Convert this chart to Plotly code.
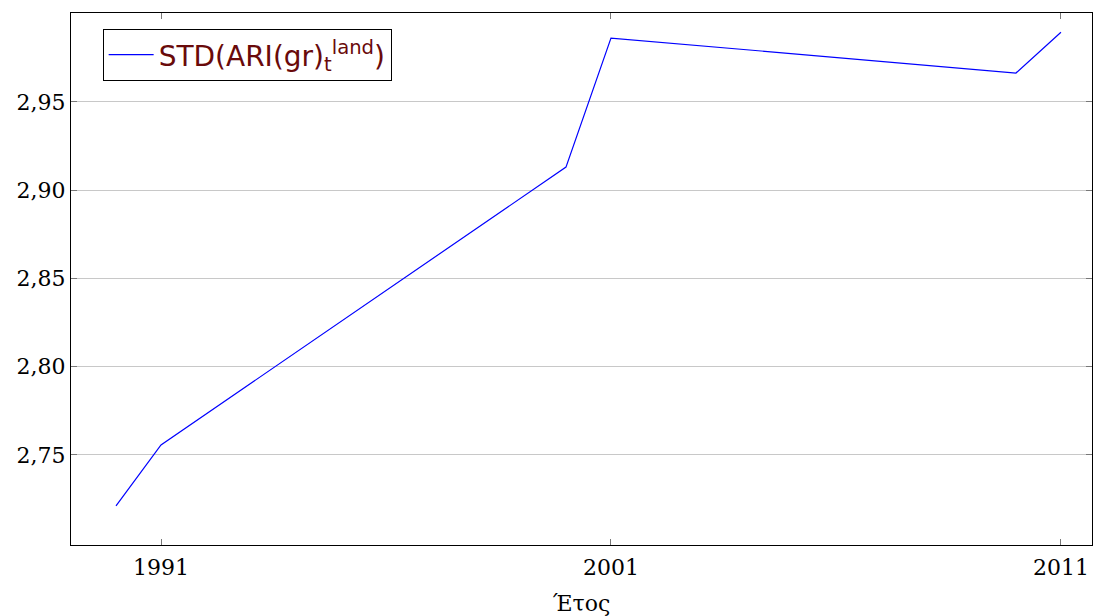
import plotly.graph_objects as go

years = [1990, 1991, 2000, 2001, 2010, 2011]
std_values = [2.7212, 2.7557, 2.9131, 2.9862, 2.9664, 2.9895]
series_name = "STD(ARI(gr)<sub>t</sub><sup>land</sup>)"
x_ticks = [1991, 2001, 2011]
y_ticks = [2.75, 2.80, 2.85, 2.90, 2.95]
y_tick_labels = ["2,75", "2,80", "2,85", "2,90", "2,95"]

fig = go.Figure()
fig.add_trace(go.Scatter(
    x=years, y=std_values, mode="lines", name=series_name,
    line=dict(color="rgb(0,0,255)", width=1.2),
    showlegend=True,
))

fig.update_layout(
    width=1097, height=616,
    margin=dict(l=71, r=5, t=13, b=71, autoexpand=False),
    paper_bgcolor="white", plot_bgcolor="white",
    font=dict(family="DejaVu Serif", size=22, color="black"),
    legend=dict(
        x=0.031, y=0.970, xanchor="left", yanchor="top",
        bordercolor="black", borderwidth=1, bgcolor="white",
        font=dict(family="DejaVu Sans", size=28, color="rgb(105,10,10)"),
        itemwidth=45, tracegroupgap=0,
    ),
    xaxis=dict(
        range=[1989, 2011.69], tickvals=x_ticks, ticktext=[str(v) for v in x_ticks],
        showgrid=False, zeroline=False, automargin=False,
        showline=True, linecolor="black", linewidth=1, mirror="ticks",
        ticks="inside", ticklen=6, tickcolor="rgb(120,120,120)",
        tickfont=dict(family="DejaVu Serif", size=22),
        ticklabelstandoff=3,
        title=dict(text="Έτος", font=dict(family="DejaVu Serif", size=22), standoff=20),
    ),
    yaxis=dict(
        range=[2.6990, 3.0004], tickvals=y_ticks, ticktext=y_tick_labels,
        showgrid=True, gridcolor="rgb(200,200,200)", gridwidth=1, zeroline=False,
        automargin=False,
        showline=True, linecolor="black", linewidth=1, mirror="ticks",
        ticks="inside", ticklen=6, tickcolor="rgb(120,120,120)",
        tickfont=dict(family="DejaVu Serif", size=22),
    ),
)

fig.write_html("out.html")
